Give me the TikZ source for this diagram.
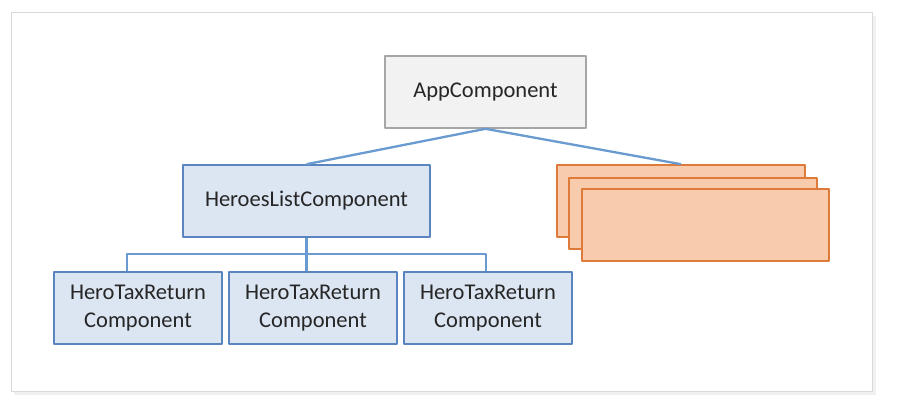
\documentclass[tikz,border=0pt]{standalone}
\usepackage{fontspec}
\setmainfont{Carlito}
\usetikzlibrary{positioning}
\definecolor{appfill}{HTML}{F2F2F2}
\definecolor{appline}{HTML}{A6A6A6}
\definecolor{herofill}{HTML}{DCE6F2}
\definecolor{heroline}{HTML}{5A85BE}
\definecolor{stackfill}{HTML}{F8CBAD}
\definecolor{stackline}{HTML}{DE7A3A}
\definecolor{linkcol}{HTML}{6A9BD0}
\tikzset{
  box/.style={draw, line width=1.6pt, inner sep=0pt, align=center,
    font=\fontsize{22.5}{27.5}\selectfont, text=black!85},
  appbox/.style={box, fill=appfill, draw=appline},
  herobox/.style={box, fill=herofill, draw=heroline},
  stackbox/.style={box, fill=stackfill, draw=stackline},
  link/.style={draw=linkcol, line width=2.3pt}
}
\begin{document}
\begin{tikzpicture}[x=1pt, y=-1pt, line join=round]
    \useasboundingbox (0,0) rectangle (900,409);
    % frame
    \fill[black!6] (14,16) rectangle (876,395);
    \fill[white, draw=black!15, line width=1pt] (11,13) rectangle (872,391);

    \node[appbox, minimum width=201pt, minimum height=72pt] (app) at (485.5,92) {AppComponent};
    \node[herobox, minimum width=247pt, minimum height=72pt] (hl) at (306.5,201) {HeroesListComponent};

    \node[stackbox, minimum width=248pt, minimum height=72pt] (or1) at (681,201) {};
    \node[stackbox, minimum width=248pt, minimum height=71pt] (or2) at (693,213.5) {};
    \node[stackbox, minimum width=247pt, minimum height=72pt] (or3) at (705.5,225) {};

    \node[herobox, minimum width=168pt, minimum height=72pt] (t1) at (138,308) {HeroTaxReturn\\Component};
    \node[herobox, minimum width=168pt, minimum height=72pt, right=5.4pt of t1] (t2) {HeroTaxReturn\\Component};
    \node[herobox, minimum width=168pt, minimum height=72pt, right=5.4pt of t2] (t3) {HeroTaxReturn\\Component};

    \draw[link] (hl.north) -- (app.south) -- (or1.north);
    \draw[link] (hl.south) -- ++(0,16) coordinate (bus);
    \draw[link] ([xshift=-11pt]t1.north) |- (bus) -| ([xshift=-2pt]t3.north);
    \draw[link] (bus) -- (bus |- t2.north);
\end{tikzpicture}
\end{document}
